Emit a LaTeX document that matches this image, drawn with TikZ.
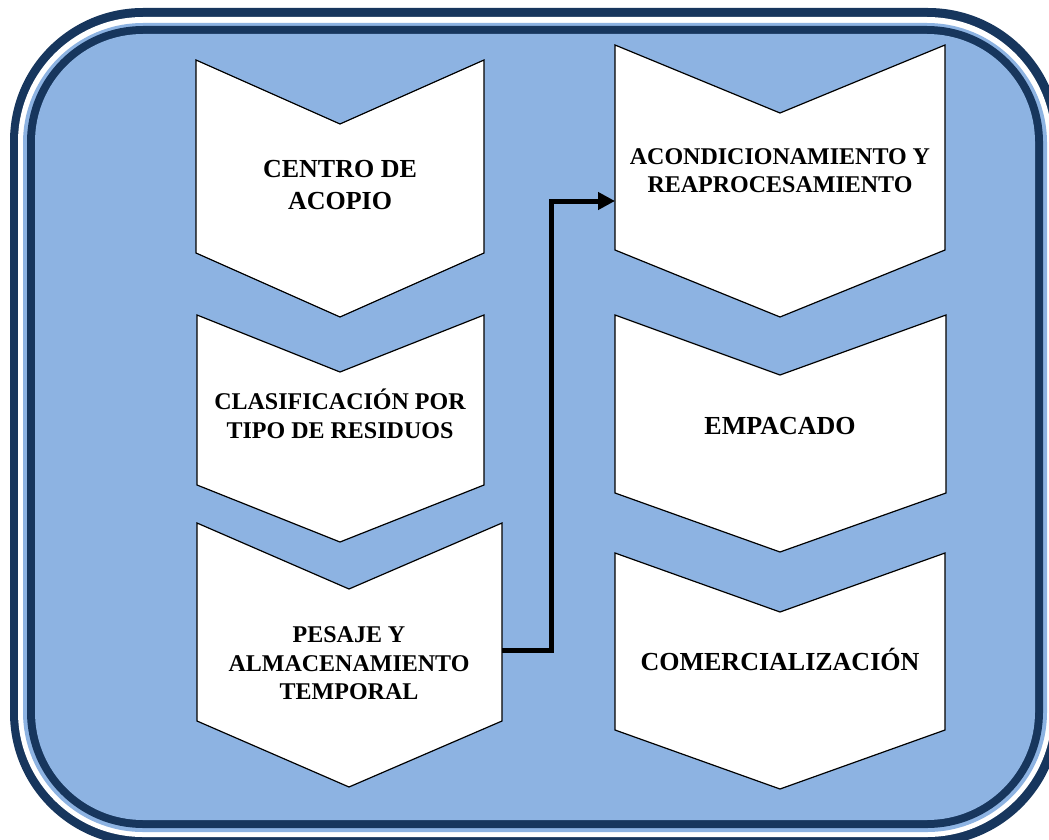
\documentclass[tikz,border=0pt]{standalone}
\usepackage{fontspec}
\setmainfont{Liberation Serif}
\usetikzlibrary{arrows.meta}
\definecolor{navy}{RGB}{23, 54, 93}
\definecolor{sky}{RGB}{141, 179, 226}

\tikzset{
  chevron/.style={fill=white, draw=black, line width=1.2pt},
  stagetext/.style={align=center, font=\bfseries\fontsize{24}{28.5}\selectfont},
  bigtext/.style={align=center, font=\bfseries\fontsize{26}{32}\selectfont},
  flow/.style={line width=5pt, -{Triangle[length=17pt, width=17pt]}}
}

\begin{document}
\begin{tikzpicture}[x=1pt, y=-1pt]
            \useasboundingbox (0,0) rectangle (1049,840);
            \clip (0,0) rectangle (1049,840);
            \fill[navy,  rounded corners=133pt] (10, 8) rectangle (1061,846);
            \fill[white, rounded corners=125pt] (18,17) rectangle (1052,837);
            \fill[sky,   rounded corners=120pt] (23,23) rectangle (1047,832);
            \fill[navy,  rounded corners=116pt] (27,26) rectangle (1043,828);
            \fill[sky,   rounded corners=108pt] (35,34) rectangle (1035,820);

            \filldraw[chevron] (196, 60) -- (340,124) -- (484, 60) -- (484,253) -- (340,317) -- (196,253) -- cycle;
            \filldraw[chevron] (197,315) -- (340,372) -- (484,315) -- (484,485) -- (340,542) -- (197,485) -- cycle;
            \filldraw[chevron] (197,523) -- (349,589) -- (502,523) -- (502,721) -- (349,787) -- (197,721) -- cycle;
            \filldraw[chevron] (615, 45) -- (780,113) -- (945, 45) -- (945,250) -- (780,317) -- (615,250) -- cycle;
            \filldraw[chevron] (615,315) -- (780,375) -- (946,315) -- (946,493) -- (780,552) -- (615,493) -- cycle;
            \filldraw[chevron] (615,553) -- (780,612) -- (945,553) -- (945,730) -- (780,789) -- (615,730) -- cycle;

            \node[bigtext]   (acopio)    at (340,185.5) {CENTRO DE\\ACOPIO};
            \node[stagetext] (clasif)    at (340,414.0) {CLASIFICACIÓN POR\\TIPO DE RESIDUOS};
            \node[stagetext] (pesaje)    at (349,663.5) {PESAJE Y\\ALMACENAMIENTO\\TEMPORAL};
            \node[stagetext] (acond)     at (780,170.5) {ACONDICIONAMIENTO Y\\REAPROCESAMIENTO};
            \node[bigtext]   (empacado)  at (780,426.5) {EMPACADO};
            \node[bigtext]   (comercial) at (780,659.5) {COMERCIALIZACIÓN};

            \coordinate (pesaje out) at (502,650);
            \coordinate (acond in)   at (615,201);
        \draw[flow] (pesaje out) -- ++(49,0) |- (acond in);
        \end{tikzpicture}
\end{document}
